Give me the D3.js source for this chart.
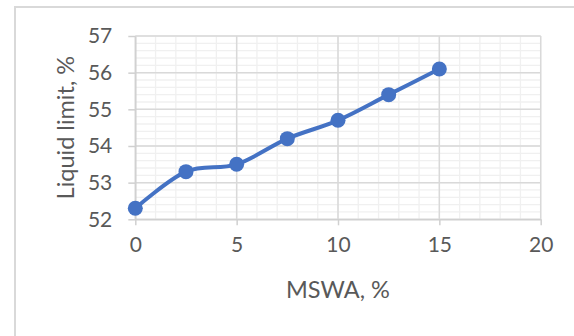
<!DOCTYPE html>
<html>
<head>
<meta charset="utf-8">
<script src="https://cdn.jsdelivr.net/npm/d3@7/dist/d3.min.js"></script>
<style>
  html, body { margin: 0; padding: 0; background: #fff; }
  svg { display: block; }
  text { font-family: Lato, "Open Sans", sans-serif; fill: #595959; }
</style>
</head>
<body>
<svg id="chart" width="574" height="336"></svg>
<script>
// MSWA content (%) and the measured liquid limit (%)
const mswa = [0, 2.5, 5, 7.5, 10, 12.5, 15];
const liquidLimit = [52.3, 53.3, 53.5, 54.2, 54.7, 55.4, 56.1];

// Axis ticks
const xTicks = [0, 5, 10, 15, 20];
const yTicks = [52, 53, 54, 55, 56, 57];
const xMinorStep = 1;
const yMinorStep = 0.2;

const xTitle = "MSWA, %";
const yTitle = "Liquid limit, %";

const W = 574, H = 336;
const plot = { left: 135.3, right: 540.7, top: 36, bottom: 219.3 };

const svg = d3.select("#chart");

// chart frame
svg.append("rect")
  .attr("x", 15).attr("y", 7)
  .attr("width", W).attr("height", H)
  .attr("fill", "none")
  .attr("stroke", "#d9d9d9")
  .attr("stroke-width", 2);

const x = d3.scaleLinear().domain([0, 20]).range([plot.left, plot.right]);
const y = d3.scaleLinear().domain([52, 57]).range([plot.bottom, plot.top]);

const grid = svg.append("g");

// minor gridlines
const xMinor = d3.range(x.domain()[0], x.domain()[1] + 1e-9, xMinorStep);
const yMinor = d3.range(y.domain()[0], y.domain()[1] + 1e-9, yMinorStep);
grid.selectAll("line.xminor").data(xMinor).join("line")
  .attr("class", "xminor")
  .attr("x1", d => x(d)).attr("x2", d => x(d))
  .attr("y1", plot.top).attr("y2", plot.bottom)
  .attr("stroke", "#f0f0f0").attr("stroke-width", 1.3);
grid.selectAll("line.yminor").data(yMinor).join("line")
  .attr("class", "yminor")
  .attr("x1", plot.left).attr("x2", plot.right)
  .attr("y1", d => y(d)).attr("y2", d => y(d))
  .attr("stroke", "#f0f0f0").attr("stroke-width", 1.3);

// major gridlines
grid.selectAll("line.xmajor").data(xTicks).join("line")
  .attr("class", "xmajor")
  .attr("x1", d => x(d)).attr("x2", d => x(d))
  .attr("y1", plot.top).attr("y2", plot.bottom)
  .attr("stroke", "#d9d9d9").attr("stroke-width", 1.5);
grid.selectAll("line.ymajor").data(yTicks).join("line")
  .attr("class", "ymajor")
  .attr("x1", plot.left).attr("x2", plot.right)
  .attr("y1", d => y(d)).attr("y2", d => y(d))
  .attr("stroke", "#d9d9d9").attr("stroke-width", 1.5);

// axes
const fmt = d3.format("d");
const xAxis = svg.append("g")
  .attr("transform", `translate(0,${plot.bottom})`)
  .call(d3.axisBottom(x).tickValues(xTicks).tickFormat(fmt)
    .tickSize(6).tickSizeOuter(0).tickPadding(12));
const yAxis = svg.append("g")
  .attr("transform", `translate(${plot.left},0)`)
  .call(d3.axisLeft(y).tickValues(yTicks).tickFormat(fmt)
    .tickSize(7).tickSizeOuter(0).tickPadding(16));

[xAxis, yAxis].forEach(a => {
  a.attr("font-size", null).attr("font-family", null);
  a.select(".domain").attr("stroke", "#d0d0d0").attr("stroke-width", 1.5);
  a.selectAll(".tick line").attr("stroke", "#d0d0d0").attr("stroke-width", 1.5);
  a.selectAll(".tick text")
    .attr("fill", "#595959")
    .style("font-size", "21px");
});

// axis titles
svg.append("text")
  .attr("x", (plot.left + plot.right) / 2)
  .attr("y", 298)
  .attr("text-anchor", "middle")
  .style("font-size", "23.5px")
  .text(xTitle);

svg.append("text")
  .attr("transform", `translate(74,${(plot.top + plot.bottom) / 2}) rotate(-90)`)
  .attr("text-anchor", "middle")
  .style("font-size", "23.5px")
  .text(yTitle);

// data series
const pts = mswa.map((m, i) => [m, liquidLimit[i]]);
const line = d3.line()
  .x(d => x(d[0]))
  .y(d => y(d[1]))
  .curve(d3.curveCatmullRom.alpha(0));

svg.append("path")
  .datum(pts)
  .attr("d", line)
  .attr("fill", "none")
  .attr("stroke", "#4472c4")
  .attr("stroke-width", 4)
  .attr("stroke-linejoin", "round");

svg.selectAll("circle.pt").data(pts).join("circle")
  .attr("class", "pt")
  .attr("cx", d => x(d[0]))
  .attr("cy", d => y(d[1]))
  .attr("r", 7.5)
  .attr("fill", "#4472c4");
</script>
</body>
</html>
